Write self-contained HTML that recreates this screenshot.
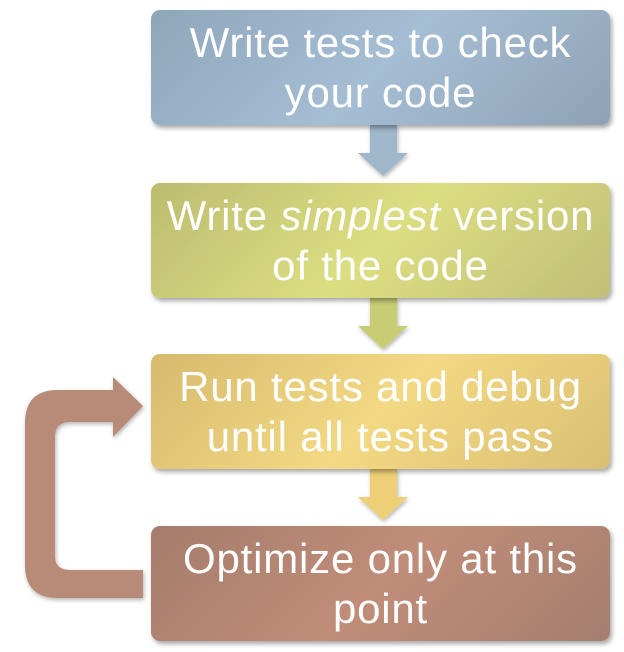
<!DOCTYPE html>
<html><head><style>
body{margin:0;width:624px;height:652px;background:#fff;position:relative;overflow:hidden;font-family:"Liberation Sans",sans-serif}
.b{position:absolute;left:151px;width:459px;height:115px;border-radius:9px;box-shadow:2px 3px 5px rgba(0,0,0,.35);color:#fff;font-size:42px;line-height:50px;text-align:center;display:flex;align-items:center;justify-content:center;letter-spacing:0.8px;white-space:nowrap}
.b1{top:10px;background:linear-gradient(135deg,#8fa6ba,#a5bed4 50%,#8fa2b5)}
.b2{top:183px;background:linear-gradient(135deg,#bcbc70,#dcde82 50%,#c0bf76)}
.b3{top:354px;background:linear-gradient(135deg,#d6ba6e,#f3d983 50%,#d9bf72)}
.b4{top:526px;background:linear-gradient(135deg,#a57c6c,#c08d79 50%,#a57e6f)}
svg{position:absolute;left:0;top:0}
</style></head><body>
<svg width="624" height="652">
<defs><filter id="s"><feDropShadow dx="1" dy="2" stdDeviation="2" flood-opacity=".3"/></filter></defs>
<polygon points="370,125 397,125 397,153 408,153 383,176 358,153 370,153" fill="#9fb7cb" filter="url(#s)"/>
<polygon points="370,298 397,298 397,326 408,326 383,349 358,326 370,326" fill="#c8cc74" filter="url(#s)"/>
<polygon points="370,469 397,469 397,497 408,497 383,520 358,497 370,497" fill="#edd075" filter="url(#s)"/>
<path d="M143,598 L58,598 Q25,598 25,565 L25,423 Q25,390 58,390 L113,390 L113,377 L143,406 L113,437 L113,422 L70,422 Q55,422 55,437 L55,556 Q55,570 70,570 L143,570 Z" fill="#b88a78" filter="url(#s)"/>
</svg>
<div class="b b1">Write tests to check<br>your code</div>
<div class="b b2"><span>Write <i>simplest</i> version<br>of the code</span></div>
<div class="b b3">Run tests and debug<br>until all tests pass</div>
<div class="b b4">Optimize only at this<br>point</div>
</body></html>
